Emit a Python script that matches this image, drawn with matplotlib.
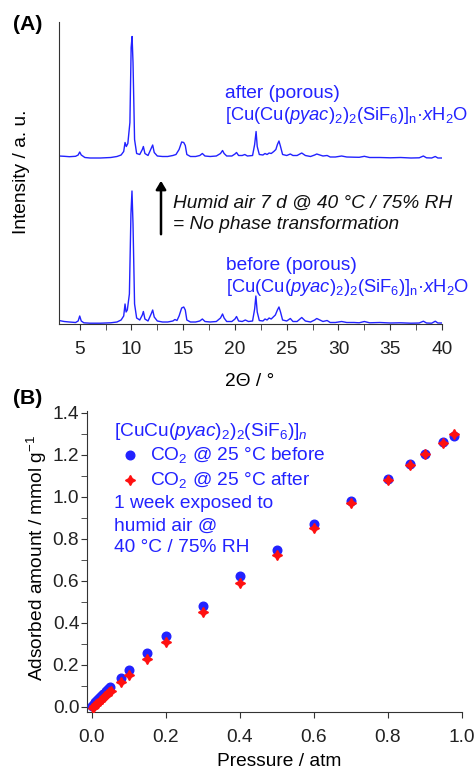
import numpy as np
import matplotlib
matplotlib.use('Agg')
import matplotlib.pyplot as plt

plt.rcParams['font.family'] = ['Liberation Sans', 'DejaVu Sans']
plt.rcParams['mathtext.fontset'] = 'custom'
plt.rcParams['mathtext.rm'] = 'Liberation Sans'
plt.rcParams['mathtext.it'] = 'Liberation Sans:italic'
plt.rcParams['mathtext.bf'] = 'Liberation Sans:bold'

# ---- (A) PXRD, traced vertices (2theta, intensity a.u.) ----
tt_before = [3.0, 3.5, 4.0, 4.6, 4.85, 5.0, 5.15, 5.4, 6.0, 7.0, 8.0, 8.6, 9.0, 9.25, 9.38, 9.48,
             9.6, 9.8, 9.95, 10.05, 10.15, 10.3, 10.5, 10.8, 11.05, 11.15, 11.3, 11.6, 11.9, 12.05,
             12.2, 12.5, 13.0, 13.5, 14.0, 14.2, 14.4, 14.6, 14.85, 15.05, 15.2, 15.35, 15.7, 16.2,
             16.6, 16.85, 17.1, 17.6, 18.2, 18.6, 18.8, 18.95, 19.2, 19.7, 20.0, 20.15, 20.35, 20.7,
             21.0, 21.3, 21.7, 21.9, 22.02, 22.15, 22.35, 22.7, 22.9, 23.1, 23.3, 23.5, 23.7, 23.9,
             24.1, 24.25, 24.4, 24.6, 25.0, 25.35, 25.6, 26.0, 26.45, 26.8, 27.3, 27.7, 27.9, 28.2,
             28.5, 28.9, 29.2, 29.7, 30.3, 30.8, 31.5, 32.0, 32.5, 33.0, 34.0, 35.0, 36.0, 37.0,
             37.8, 38.2, 38.5, 39.0, 39.35, 39.6, 40.0]
int_before = [3.5, 2.5, 2.0, 1.5, 3.0, 8.0, 3.0, 1.2, 0.8, 0.8, 1.2, 2.0, 4.0, 8.0, 20.0, 12.0,
              14.0, 30.0, 110.0, 133.0, 100.0, 20.0, 6.0, 4.0, 9.0, 12.5, 5.0, 3.0, 10.0, 14.0,
              7.0, 3.0, 2.0, 2.0, 3.0, 4.5, 3.5, 8.0, 16.0, 17.0, 14.0, 4.0, 2.0, 2.0,
              3.0, 5.0, 2.5, 2.0, 2.5, 6.0, 10.0, 6.0, 2.5, 2.5, 5.0, 7.5, 3.0, 2.5,
              4.0, 2.5, 3.0, 15.0, 28.0, 12.0, 3.5, 3.0, 5.0, 4.0, 6.0, 5.0, 7.0, 9.0,
              14.0, 17.0, 12.0, 4.0, 3.0, 5.5, 2.5, 2.5, 6.5, 3.0, 2.0, 4.0, 5.5, 4.0,
              2.5, 3.5, 1.5, 1.5, 2.5, 1.5, 1.5, 1.2, 2.5, 1.2, 1.5, 1.0, 1.2, 0.8,
              1.0, 2.8, 1.0, 0.8, 2.8, 1.0, 1.0]

tt_after = [3.0, 3.5, 4.0, 4.6, 4.85, 5.0, 5.15, 5.5, 6.0, 7.0, 8.0, 8.6, 9.0, 9.25, 9.38, 9.5,
            9.65, 9.85, 9.97, 10.06, 10.15, 10.3, 10.5, 10.8, 11.05, 11.15, 11.3, 11.6, 11.9, 12.05,
            12.2, 12.5, 13.0, 13.5, 14.0, 14.3, 14.6, 14.85, 15.05, 15.2, 15.35, 15.7, 16.2, 16.6,
            16.85, 17.1, 17.6, 18.2, 18.6, 18.8, 18.95, 19.2, 19.7, 20.0, 20.15, 20.35, 20.7, 20.95,
            21.2, 21.7, 21.9, 22.04, 22.15, 22.35, 22.7, 22.9, 23.1, 23.3, 23.5, 23.75, 23.95, 24.1,
            24.25, 24.4, 24.6, 25.0, 25.35, 25.6, 26.0, 26.45, 26.8, 27.3, 27.7, 27.9, 28.2, 28.5,
            28.9, 29.2, 29.7, 30.3, 30.8, 31.5, 32.0, 32.5, 33.0, 34.0, 35.0, 36.0, 37.0, 37.8,
            38.2, 38.5, 39.0, 39.35, 39.6, 40.0]
int_after = [1.5, 1.2, 0.8, 1.2, 2.5, 5.5, 2.5, 0.0, -0.5, -0.5, 0.0, 1.0, 2.5, 6.0, 15.0, 11.0,
             14.0, 35.0, 110.0, 121.0, 95.0, 18.0, 4.0, 3.0, 8.0, 11.0, 4.0, 2.0, 9.0, 12.5,
             5.0, 1.5, 1.0, 1.0, 2.0, 3.0, 8.0, 15.5, 15.0, 12.0, 3.0, 1.0, 1.0, 2.0,
             4.0, 1.5, 1.0, 1.5, 4.0, 7.0, 4.0, 1.5, 1.5, 3.5, 5.0, 2.0, 2.0, 3.0,
             1.5, 2.0, 13.0, 26.0, 11.0, 3.0, 2.5, 4.0, 3.0, 4.5, 4.0, 6.0, 8.0, 13.0,
             16.5, 11.0, 3.0, 2.0, 3.5, 2.0, 2.0, 4.5, 2.0, 1.0, 2.5, 3.5, 2.5, 1.5,
             2.0, 0.5, 0.5, 1.5, 0.5, 0.3, 0.2, 1.2, 0.0, 0.0, -0.3, 0.0, -0.5, -0.3,
             1.5, -0.3, -0.5, 1.0, -0.5, -0.5]

# ---- (B) CO2 isotherms at 25 C ----
p_before = [0.001, 0.005, 0.01, 0.015, 0.02, 0.025, 0.03, 0.035, 0.04, 0.045, 0.05,
            0.08, 0.1, 0.15, 0.2, 0.3, 0.4, 0.5, 0.6, 0.7, 0.8, 0.86, 0.9, 0.95, 0.98]
q_before = [0.005, 0.012, 0.022, 0.032, 0.042, 0.051, 0.060, 0.068, 0.076, 0.084, 0.093,
            0.140, 0.175, 0.256, 0.338, 0.482, 0.624, 0.748, 0.870, 0.980, 1.084, 1.156, 1.205, 1.259, 1.290]
p_after = [0.003, 0.007, 0.012, 0.017, 0.022, 0.027, 0.032, 0.037, 0.042, 0.047, 0.052,
           0.08, 0.1, 0.15, 0.2, 0.3, 0.4, 0.5, 0.6, 0.7, 0.8, 0.86, 0.9, 0.95, 0.98]
q_after = [-0.005, 0.003, 0.012, 0.021, 0.030, 0.038, 0.046, 0.054, 0.062, 0.070, 0.078,
           0.120, 0.154, 0.230, 0.308, 0.451, 0.589, 0.724, 0.852, 0.968, 1.080, 1.153, 1.202, 1.257, 1.300]

W, H = 476, 772
BLUE = '#2222ff'
RED = '#ff1010'
AX = '#333333'
FS = 13.8


def px(x, y):
    return x / W, 1 - y / H


fig = plt.figure(figsize=(W / 100, H / 100), dpi=100)

# panel A
axA = fig.add_axes([59 / W, 1 - 324 / H, (442 - 59) / W, (324 - 22) / H])
axA.plot(tt_before, int_before, color=BLUE, lw=1.0)
axA.plot(tt_after, np.array(int_after) + 166.5, color=BLUE, lw=1.0)
axA.set_xlim(3, 40)
axA.set_ylim(0, 302)
axA.set_xticks(np.arange(5, 41, 5))
axA.set_xticks(np.arange(5, 40.1, 2.5), minor=True)
axA.set_yticks([])
for s in ['top', 'right']:
    axA.spines[s].set_visible(False)
for s in ['left', 'bottom']:
    axA.spines[s].set_color(AX)
axA.tick_params(axis='x', which='both', direction='out', length=4.5, color=AX,
                labelsize=FS, labelcolor='#222222', pad=8)

fig.text(*px(250, 381), '2Θ / °', fontsize=FS, ha='center', va='center')
fig.text(*px(22, 172), 'Intensity / a. u.', fontsize=FS, ha='center', va='center', rotation=90)
fig.text(*px(13, 25), '(A)', fontsize=FS + 1.5, fontweight='bold', ha='left', va='center')

formula = '[Cu(Cu($\\mathit{pyac}$)$_2$)$_2$(SiF$_6$)]$_\\mathregular{n}$·$\\mathit{x}$H$_2$O'
fig.text(*px(225, 93), 'after (porous)', fontsize=FS, color=BLUE, ha='left', va='center')
fig.text(*px(225, 115), formula, fontsize=13.2, color=BLUE, ha='left', va='center')
fig.text(*px(226, 266), 'before (porous)', fontsize=FS, color=BLUE, ha='left', va='center')
fig.text(*px(226, 288), formula, fontsize=13.2, color=BLUE, ha='left', va='center')

fig.add_artist(matplotlib.patches.FancyArrowPatch(px(161, 237), px(161, 178), transform=fig.transFigure,
                                                  arrowstyle='-|>,head_length=5,head_width=3',
                                                  color='black', lw=1.8))
fig.text(*px(173, 203), 'Humid air 7 d @ 40 °C / 75% RH', fontsize=FS, style='italic',
         ha='left', va='center', color='#111111')
fig.text(*px(173, 225), '= No phase transformation', fontsize=FS, style='italic',
         ha='left', va='center', color='#111111')

# panel B
axB = fig.add_axes([87 / W, 1 - 712 / H, (461.7 - 87) / W, (712 - 411) / H])
axB.plot(p_before, q_before, 'o', color=BLUE, ms=6.2, mec=BLUE, zorder=3)
axB.plot(p_after, q_after, marker=(4, 1, 0), ls='none', color=RED, ms=7.2, zorder=4)
axB.set_xlim(-0.0127, 1.0)
axB.set_ylim(-0.024, 1.408)
axB.set_xticks(np.arange(0, 1.01, 0.2))
axB.set_xticklabels(['0.0', '0.2', '0.4', '0.6', '0.8', '1.0'])
axB.set_yticks(np.arange(0, 1.41, 0.2))
axB.set_yticklabels(['0.0', '0.2', '0.4', '0.6', '0.8', '1.0', '1.2', '1.4'])
axB.set_yticks(np.arange(0.1, 1.4, 0.2), minor=True)
for s in ['top', 'right']:
    axB.spines[s].set_visible(False)
for s in ['left', 'bottom']:
    axB.spines[s].set_color(AX)
axB.tick_params(which='both', direction='out', length=4, color=AX,
                labelsize=FS, labelcolor='#222222')
axB.tick_params(axis='x', pad=8)
axB.tick_params(axis='y', pad=1.5)

fig.text(*px(279, 762), 'Pressure / atm', fontsize=FS, ha='center', va='center')
fig.text(*px(37, 558), 'Adsorbed amount / mmol g$^{-1}$', fontsize=FS, ha='center',
         va='center', rotation=90)
fig.text(*px(13, 399), '(B)', fontsize=FS + 1.5, fontweight='bold', ha='left', va='center')

fig.text(*px(114, 432), '[CuCu($\\mathit{pyac}$)$_2$)$_2$(SiF$_6$)]$_\\mathit{n}$', fontsize=FS,
         color=BLUE, ha='left', va='center')
fig.lines.append(matplotlib.lines.Line2D([130 / W], [1 - 455 / H], marker='o', color=BLUE, ms=6.2,
                                         transform=fig.transFigure, figure=fig))
fig.lines.append(matplotlib.lines.Line2D([130 / W], [1 - 480 / H], marker=(4, 1, 0), color=RED,
                                         ms=7.2, transform=fig.transFigure, figure=fig))
fig.text(*px(150, 455), 'CO$_2$ @ 25 °C before', fontsize=FS, color=BLUE, ha='left', va='center')
fig.text(*px(150, 480), 'CO$_2$ @ 25 °C after', fontsize=FS, color=BLUE, ha='left', va='center')
fig.text(*px(114, 503), '1 week exposed to', fontsize=FS, color=BLUE, ha='left', va='center')
fig.text(*px(114, 526), 'humid air @', fontsize=FS, color=BLUE, ha='left', va='center')
fig.text(*px(114, 548), '40 °C / 75% RH', fontsize=FS, color=BLUE, ha='left', va='center')

fig.savefig('out.png', dpi=100)
